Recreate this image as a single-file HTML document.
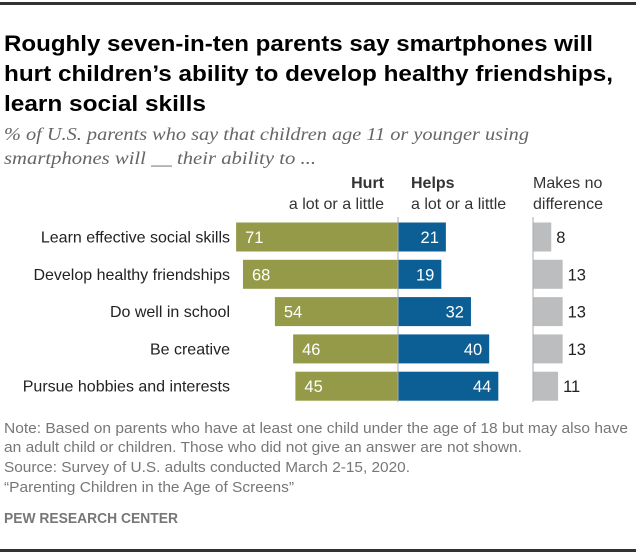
<!DOCTYPE html>
<html><head><meta charset="utf-8"><style>
body{margin:0;background:#fff;width:640px;height:556px;overflow:hidden}
svg{display:block}
.t{font-family:"Liberation Sans",sans-serif;font-weight:bold;font-size:22.5px;fill:#000}
.s{font-family:"Liberation Serif",serif;font-style:italic;font-size:18px;fill:#666}
.n{font-family:"Liberation Sans",sans-serif;font-size:14.5px;fill:#777}
.l{font-family:"Liberation Sans",sans-serif;font-size:16px;fill:#222}
.h{font-family:"Liberation Sans",sans-serif;font-size:16px;fill:#333}
.v{font-family:"Liberation Sans",sans-serif;font-size:16.5px;fill:#fff}
</style></head><body>
<svg id="c" width="640" height="556">
<rect x="0" y="2" width="636" height="3" fill="#333"/>
<text class="t" x="4" y="51" textLength="589" lengthAdjust="spacingAndGlyphs">Roughly seven-in-ten parents say smartphones will</text>
<text class="t" x="4" y="81" textLength="609" lengthAdjust="spacingAndGlyphs">hurt children’s ability to develop healthy friendships,</text>
<text class="t" x="4" y="111" textLength="202" lengthAdjust="spacingAndGlyphs">learn social skills</text>
<text class="s" x="4" y="140" textLength="525" lengthAdjust="spacingAndGlyphs">% of U.S. parents who say that children age 11 or younger using</text>
<text class="s" x="4" y="164" textLength="312" lengthAdjust="spacingAndGlyphs">smartphones will __ their ability to ...</text>
<text class="h" x="384" y="188" text-anchor="end" font-weight="bold" fill="#000">Hurt</text>
<text class="h" x="384" y="209" text-anchor="end">a lot or a little</text>
<text class="h" x="411" y="188" font-weight="bold" fill="#000">Helps</text>
<text class="h" x="411" y="209">a lot or a little</text>
<text class="h" x="533" y="188">Makes no</text>
<text class="h" x="533" y="209">difference</text>
<g id="bars"></g>
<line x1="398" y1="217" x2="398" y2="402" stroke="#aaa" stroke-width="1"/>
<line x1="533" y1="217" x2="533" y2="402" stroke="#aaa" stroke-width="1"/>
<text class="n" x="4" y="433" textLength="624" lengthAdjust="spacingAndGlyphs">Note: Based on parents who have at least one child under the age of 18 but may also have</text>
<text class="n" x="4" y="452" textLength="518" lengthAdjust="spacingAndGlyphs">an adult child or children. Those who did not give an answer are not shown.</text>
<text class="n" x="4" y="472" textLength="406" lengthAdjust="spacingAndGlyphs">Source: Survey of U.S. adults conducted March 2-15, 2020.</text>
<text class="n" x="4" y="492" textLength="290" lengthAdjust="spacingAndGlyphs">“Parenting Children in the Age of Screens”</text>
<text class="n" x="4" y="523" font-weight="bold" fill="#000" font-size="15.5" textLength="174" lengthAdjust="spacingAndGlyphs">PEW RESEARCH CENTER</text>
<rect x="0" y="549" width="636" height="3" fill="#333"/>
</svg>
<script>
const categories=["Learn effective social skills","Develop healthy friendships","Do well in school","Be creative","Pursue hobbies and interests"];
const hurt=[71,68,54,46,45];
const helps=[21,19,32,40,44];
const noDiff=[8,13,13,13,11];
const NS="http://www.w3.org/2000/svg";
const g=document.getElementById("bars");
const k=2.28, zero=398, nd=533, y0=237, step=37.3, bh=29;
const x=v=>v*k;
function mk(tag,a,txt){const e=document.createElementNS(NS,tag);for(const p in a)e.setAttribute(p,a[p]);if(txt!=null)e.textContent=txt;g.appendChild(e);return e;}
categories.forEach((c,i)=>{
 const cy=y0+i*step;
 const lab=mk("text",{class:"l",x:230,y:cy+5.5,"text-anchor":"end"},c);
 
 
 const r1=mk("rect",{x:zero-x(hurt[i]),y:cy-bh/2,width:x(hurt[i]),height:bh,fill:"#949a48"});
 
 
 const t1=mk("text",{class:"v",x:zero-x(hurt[i])+9,y:cy+6},hurt[i]);
 
 
 const r2=mk("rect",{x:zero,y:cy-bh/2,width:x(helps[i]),height:bh,fill:"#0b5f95"});
 
 
 const t2=mk("text",{class:"v",x:zero+x(helps[i])-7,y:cy+6,"text-anchor":"end"},helps[i]);
 
 
 const r3=mk("rect",{x:nd,y:cy-bh/2,width:x(noDiff[i]),height:bh,fill:"#bcbdbf"});
 
 
 const t3=mk("text",{class:"v",x:nd+x(noDiff[i])+5,y:cy+6},noDiff[i]);
 t3.style.fill='#222';
 
 
});
</script>
</body></html>
